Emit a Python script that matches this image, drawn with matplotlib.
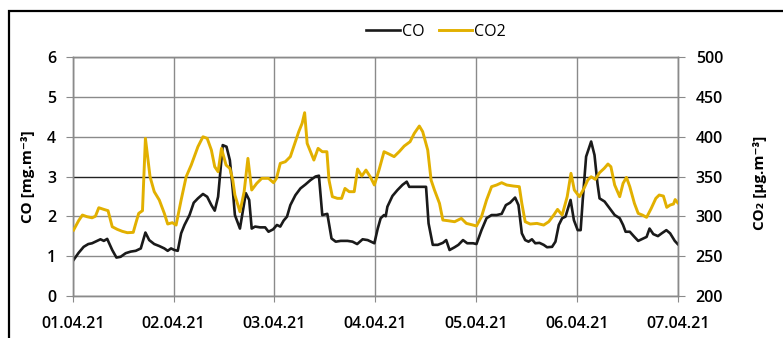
import numpy as np
import matplotlib
matplotlib.use('Agg')
import matplotlib.pyplot as plt
from matplotlib.patches import Rectangle

plt.rcParams['font.family'] = ['Open Sans', 'DejaVu Sans']

# hours since 01.04.21 00:00
day_labels = ['01.04.21', '02.04.21', '03.04.21', '04.04.21', '05.04.21', '06.04.21', '07.04.21']

co_hours = [0.2, 1.4, 2.6, 3.7, 4.6, 5.8, 6.6, 7.4, 8.2, 9.4, 10.4, 11.4, 12.6, 13.8, 15.0, 16.2, 17.3,
            18.2, 19.4, 20.6, 21.8, 22.6, 23.4, 24.2, 25.0, 25.8, 26.6, 27.8, 28.8, 29.8, 31.0, 32.0,
            33.0, 33.8, 34.6, 35.7, 36.6, 37.4, 38.1, 38.6, 39.8, 41.2, 42.0, 42.6, 43.4, 44.6, 45.8,
            46.6, 47.7, 48.6, 49.4, 50.2, 51.0, 51.8, 53.0, 54.2, 55.4, 56.6, 57.8, 58.6, 59.4, 60.6,
            61.6, 62.6, 63.8, 65.4, 66.6, 67.7, 69.0, 70.2, 71.0, 71.8, 72.6, 73.3, 74.1, 74.5, 74.9,
            76.1, 77.3, 78.5, 79.5, 80.1, 81.3, 82.9, 84.1, 84.7, 85.7, 86.9, 88.1, 88.9, 89.7, 90.9,
            91.8, 92.9, 93.9, 95.3, 96.1, 97.3, 98.5, 99.7, 100.9, 102.1, 103.1, 104.1, 105.3, 106.1,
            106.9, 107.7, 108.5, 109.3, 110.1, 111.1, 112.1, 112.9, 114.1, 114.9, 115.7, 116.5, 117.3,
            118.5, 119.3, 120.2, 120.9, 121.4, 122.2, 123.4, 124.2, 124.9, 125.4, 126.6, 127.8, 129.0,
            130.2, 131.0, 131.6, 132.6, 133.7, 134.6, 135.8, 136.6, 137.3, 138.2, 139.3, 140.2, 141.3,
            142.2, 143.3, 144.0]
co_vals = [0.90, 1.08, 1.23, 1.30, 1.32, 1.38, 1.42, 1.38, 1.43, 1.15, 0.96, 0.98, 1.07, 1.11, 1.13, 1.19, 1.59,
           1.40, 1.30, 1.25, 1.19, 1.13, 1.19, 1.15, 1.13, 1.57, 1.78, 2.03, 2.34, 2.45, 2.56, 2.49,
           2.28, 2.14, 2.49, 3.79, 3.75, 3.41, 2.66, 2.03, 1.69, 2.58, 2.41, 1.69, 1.74, 1.72, 1.72,
           1.61, 1.67, 1.78, 1.74, 1.89, 1.99, 2.28, 2.53, 2.70, 2.80, 2.91, 3.00, 3.02, 2.03, 2.06,
           1.44, 1.36, 1.38, 1.38, 1.36, 1.30, 1.42, 1.40, 1.36, 1.32, 1.69, 1.95, 2.03, 2.00, 2.24,
           2.51, 2.66, 2.79, 2.87, 2.74, 2.74, 2.74, 2.74, 1.82, 1.28, 1.28, 1.33, 1.40, 1.15, 1.22,
           1.28, 1.40, 1.32, 1.32, 1.30, 1.65, 1.95, 2.03, 2.03, 2.06, 2.28, 2.34, 2.47, 2.28,
           1.57, 1.40, 1.36, 1.42, 1.32, 1.33, 1.28, 1.22, 1.23, 1.36, 1.78, 1.95, 1.99,
           2.41, 1.90, 1.65, 1.65, 2.41, 3.50, 3.88, 3.54, 2.83, 2.45, 2.37, 2.20, 2.03,
           1.95, 1.78, 1.61, 1.61, 1.48, 1.38, 1.44, 1.48, 1.69, 1.55, 1.50, 1.57, 1.65,
           1.57, 1.38, 1.30]

co2_hours = [0.2, 1.4, 2.3, 3.4, 4.6, 5.4, 6.2, 7.4, 8.4, 9.4, 10.6, 11.8, 13.0, 14.4, 15.0, 15.7, 16.6,
             17.3, 18.4, 19.4, 20.6, 21.8, 22.6, 23.7, 24.6, 25.8, 27.0, 28.2, 29.8, 31.0, 32.0, 33.0,
             33.8, 34.6, 35.4, 36.5, 37.4, 38.1, 38.6, 39.8, 40.8, 41.7, 42.6, 43.8, 45.0, 46.6, 47.8,
             48.5, 49.4, 50.6, 51.8, 52.6, 53.8, 54.6, 55.2, 55.8, 56.6, 57.4, 58.4, 59.4, 60.5, 61.0,
             61.8, 63.0, 64.0, 64.8, 65.8, 67.0, 67.8, 68.8, 69.8, 70.9, 71.8, 72.9, 74.1, 75.3, 76.5,
             77.7, 78.9, 80.3, 81.3, 82.5, 83.3, 84.5, 85.3, 86.1, 87.3, 88.1, 89.3, 90.9, 92.5, 93.7,
             95.3, 96.1, 97.3, 98.5, 99.7, 100.9, 102.1, 103.3, 104.9, 106.3, 106.9, 107.7, 108.9,
             110.5, 112.1, 113.3, 114.5, 115.4, 116.5, 117.7, 118.6, 119.4, 120.6, 121.7, 122.6, 123.4,
             124.4, 125.4, 126.5, 127.4, 128.1, 129.0, 130.2, 131.0, 131.8, 132.6, 133.7, 134.6, 135.6,
             136.6, 137.7, 138.8, 139.6, 140.6, 141.4, 142.2, 143.0, 143.4, 144.0]
co2_vals = [282.6, 294.4, 301.5, 299.4, 298.0, 300.0, 310.7, 308.6, 307.0, 286.8, 283.5, 281.0, 279.3, 279.7,
            291.0, 303.6, 307.0, 398.0, 349.7, 330.9, 320.4, 303.6, 290.2, 291.9, 288.9, 320.4, 349.7,
            364.4, 387.5, 400.0, 398.0, 383.3, 362.3, 356.0, 385.4, 364.4, 360.2, 345.5, 326.7, 305.7,
            330.9, 372.8, 333.0, 341.4, 347.7, 347.7, 342.2, 347.7, 366.5, 368.6, 375.0, 387.5, 406.4,
            416.9, 430.3, 391.7, 381.2, 370.7, 385.4, 381.2, 381.2, 345.5, 324.6, 322.5, 322.5, 335.0,
            330.9, 330.9, 359.4, 350.6, 358.1, 348.9, 339.3, 358.1, 381.2, 378.2, 375.0, 381.2, 388.3,
            393.8, 404.3, 413.5, 406.4, 383.3, 345.5, 333.0, 316.2, 295.2, 294.4, 293.1, 297.3, 291.0,
            288.9, 287.7, 299.4, 320.4, 337.2, 339.3, 342.2, 339.3, 338.0, 337.2, 316.2, 293.1, 290.2,
            291.0, 288.9, 293.1, 301.5, 308.6, 301.5, 324.6, 354.0, 333.0, 324.6, 335.0, 345.5, 349.7,
            346.4, 354.8, 360.2, 365.7, 362.3, 339.3, 324.6, 341.4, 348.9, 337.2, 316.2, 303.6, 301.5,
            298.6, 309.9, 322.5, 326.7, 325.4, 311.2, 314.1, 315.4, 321.0, 317.0]

grid_c = '#8a8a8a'
gold = '#E2B000'

fig = plt.figure(figsize=(7.83, 3.38), dpi=100)
ax = fig.add_axes([0.0929, 0.1251, 0.7726, 0.7054])
ax2 = ax.twinx()

l1, = ax.plot(co_hours, co_vals, color='#1a1a1a', lw=1.9, label='CO', zorder=3)
l2, = ax2.plot(co2_hours, co2_vals, color=gold, lw=2.1, label='CO2', zorder=3)

ax.set_xlim(0, 144)
ax.set_ylim(0, 6)
ax2.set_ylim(200, 500)
ax.set_xticks(np.arange(0, 145, 24))
ax.set_xticklabels(day_labels)
ax.set_yticks(range(7))
ax2.set_yticks(range(200, 501, 50))

ax.grid(True, color=grid_c, lw=1.0)
ax.get_ygridlines()[3].set_color('#222222')
for a in (ax, ax2):
    for s in a.spines.values():
        s.set_color(grid_c)
        s.set_linewidth(1.0)
ax.tick_params(axis='x', length=4.5, color=grid_c, pad=10, labelsize=11.5)
ax.tick_params(axis='y', length=5, color=grid_c, pad=7, labelsize=11.5)
ax2.tick_params(axis='y', length=5, color=grid_c, pad=8, labelsize=11.5)
for t in ax.get_xticklabels() + ax.get_yticklabels() + ax2.get_yticklabels():
    t.set_fontweight('semibold')

fig.text(28 / 783, 1 - 177 / 338, 'CO [mg.m⁻³]', rotation=90, ha='center', va='center',
         fontsize=11, fontweight='bold')
fig.text(760 / 783, 1 - 183 / 338, 'CO₂ [µg.m⁻³]', rotation=90, ha='center', va='center',
         fontsize=11, fontweight='bold')

fig.legend(handles=[l1, l2], loc='center', bbox_to_anchor=(436 / 783, 1 - 31.7 / 338), ncol=2,
           frameon=False, fontsize=11.5, handlelength=2.1, handletextpad=0.1, columnspacing=0.9)

fig.patches.append(Rectangle((9 / 783, -0.1), 1.0, 1 - 11 / 338 + 0.1, transform=fig.transFigure,
                             fill=False, edgecolor='black', lw=1.6, zorder=10))

fig.savefig('out.png', dpi=100)
